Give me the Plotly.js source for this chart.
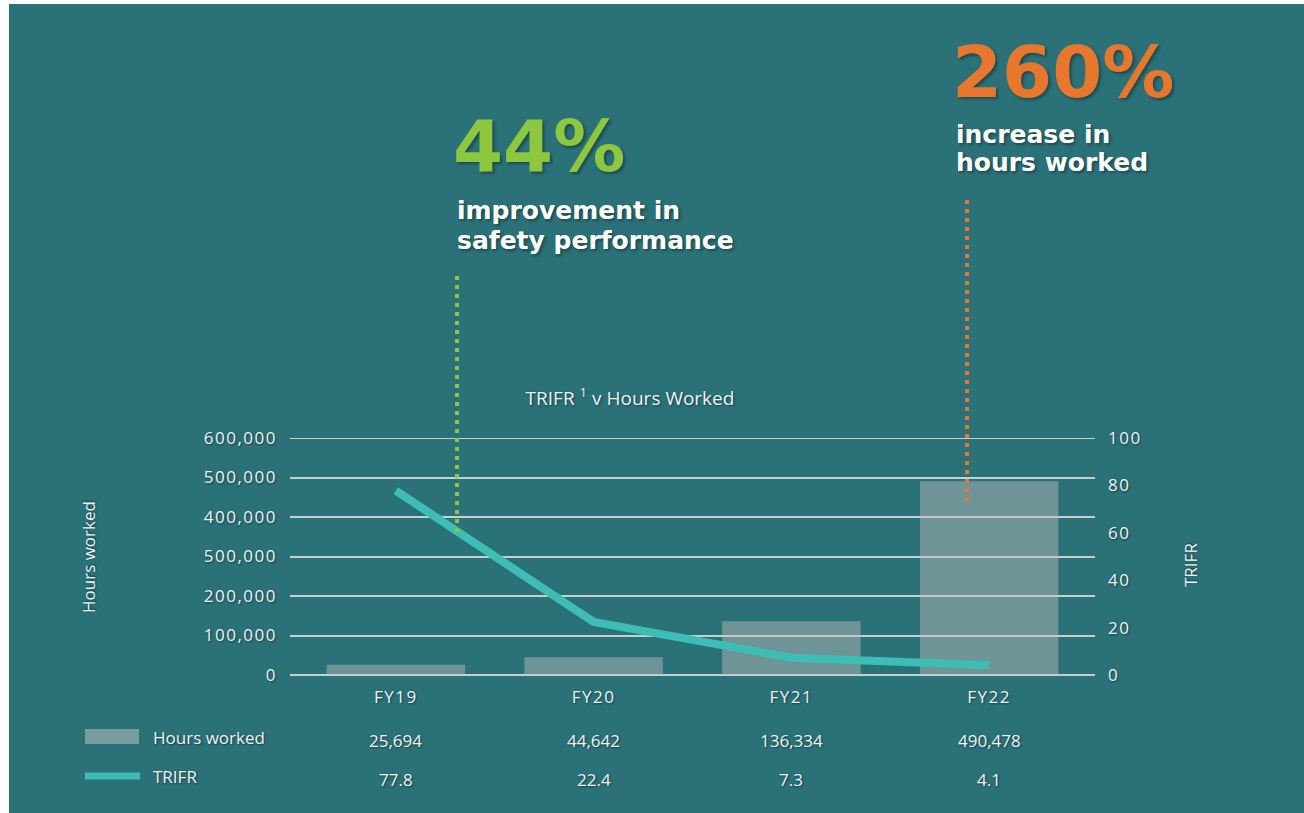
<!DOCTYPE html>
<html>
<head>
<meta charset="utf-8">
<script src="https://cdn.plot.ly/plotly-3.0.1.min.js"></script>
<style>
  html, body { margin: 0; padding: 0; background: #ffffff; }
  #chart { position: absolute; left: 9px; top: 4px; width: 1295px; height: 809px; }
  /* the source uses a wide face for numbers; widen Open Sans a little */
  #chart .xtick text, #chart .ytick text, #chart .y2tick text { letter-spacing: 1.5px; }
</style>
</head>
<body>
<div id="chart"></div>
<script>
const categories = ['FY19', 'FY20', 'FY21', 'FY22']
const hoursWorked = [25694, 44642, 136334, 490478]
const trifr = [77.8, 22.4, 7.3, 4.1]

// left axis labels as printed (the 300,000 tick reads 500,000 in the source)
const hoursTickVals = [0, 100000, 200000, 300000, 400000, 500000, 600000]
const hoursTickText = ['0', '100,000', '200,000', '500,000', '400,000', '500,000', '600,000']
const trifrTickVals = [0, 20, 40, 60, 80, 100]

const BG = '#2b7178'
const TEAL = '#3dbdb4'
const GREEN = '#8dc63f'
const ORANGE = '#e8772e'
const TXT = '#eef3f3'
const GRID = '#c6d0d1'
const shadow = '1px 1px 2px rgba(0,0,0,0.45)'

// page pixel -> paper coords (plot area spans x 290..1095, y 438..675 on the page)
const px = x => (x - 290) / 805
const py = y => (675 - y) / 237

const tickFont = { family: 'Open Sans, sans-serif', size: 17, color: TXT, shadow: shadow }
const labelFont = { family: 'Open Sans, sans-serif', size: 17, color: TXT, shadow: shadow }

const bars = {
    type: 'bar',
    name: 'Hours worked',
    x: categories,
    y: hoursWorked,
    marker: { color: 'rgba(190,190,190,0.46)' },
    hoverinfo: 'x+y',
}

const line = {
    type: 'scatter',
    mode: 'lines',
    name: 'TRIFR',
    x: categories,
    y: trifr,
    yaxis: 'y2',
    line: { color: TEAL, width: 8 },
}

const bigText = (text, x, y, color, size) => ({
    text: text, xref: 'paper', yref: 'paper', x: px(x), y: py(y),
    xanchor: 'left', yanchor: 'middle', showarrow: false,
    font: { family: 'DejaVu Sans, sans-serif', size: size, weight: 700, color: color,
            shadow: '2px 2px 3px rgba(0,0,0,0.35)' },
})

const annotations = [
    bigText('44%', 451, 146, GREEN, 72),
    bigText('improvement in', 455, 211, '#ffffff', 25),
    bigText('safety performance', 455, 240, '#ffffff', 25),
    bigText('260%', 950, 72, ORANGE, 72),
    bigText('increase in', 954, 134, '#ffffff', 25),
    bigText('hours worked', 954, 162, '#ffffff', 25),
    {
        text: 'Hours worked', xref: 'paper', yref: 'paper', x: px(88), y: py(557),
        textangle: -90, showarrow: false, xanchor: 'center', yanchor: 'middle', font: labelFont,
    },
    {
        text: 'TRIFR', xref: 'paper', yref: 'paper', x: px(1190), y: py(565),
        textangle: -90, showarrow: false, xanchor: 'center', yanchor: 'middle', font: labelFont,
    },
    {
        text: 'Hours worked', xref: 'paper', yref: 'paper', x: px(151), y: py(737),
        showarrow: false, xanchor: 'left', yanchor: 'middle', font: labelFont,
    },
    {
        text: 'TRIFR', xref: 'paper', yref: 'paper', x: px(151), y: py(776),
        showarrow: false, xanchor: 'left', yanchor: 'middle', font: labelFont,
    },
]

// table rows under the axis, one value per category
categories.forEach((c, i) => {
    annotations.push({
        text: hoursWorked[i].toLocaleString('en-US'), xref: 'x', yref: 'paper', x: c, y: py(740),
        showarrow: false, xanchor: 'center', yanchor: 'middle', font: tickFont,
    })
    annotations.push({
        text: trifr[i].toFixed(1), xref: 'x', yref: 'paper', x: c, y: py(779),
        showarrow: false, xanchor: 'center', yanchor: 'middle', font: tickFont,
    })
})

const shapes = [
    // top gridline (plotly drops the grid line sitting on the range end)
    { type: 'line', xref: 'paper', yref: 'y', x0: 0, x1: 1,
      y0: hoursTickVals[hoursTickVals.length - 1], y1: hoursTickVals[hoursTickVals.length - 1],
      layer: 'below', line: { color: GRID, width: 2 } },
    // dotted call-out lines
    { type: 'line', xref: 'paper', yref: 'paper', x0: px(457), x1: px(457), y0: py(276), y1: py(537),
      line: { color: GREEN, width: 4, dash: '4px,5px' } },
    { type: 'line', xref: 'paper', yref: 'paper', x0: px(967), x1: px(967), y0: py(200), y1: py(502),
      line: { color: ORANGE, width: 4, dash: '4px,5px' } },
    // legend swatches
    { type: 'rect', xref: 'paper', yref: 'paper', x0: px(85), x1: px(139), y0: py(744), y1: py(729),
      fillcolor: '#7a9da0', line: { width: 0 } },
    { type: 'line', xref: 'paper', yref: 'paper', x0: px(85), x1: px(140), y0: py(776), y1: py(776),
      line: { color: TEAL, width: 7 } },
]

const layout = {
    width: 1295,
    height: 809,
    margin: { l: 281, r: 209, t: 434, b: 138 },
    paper_bgcolor: BG,
    plot_bgcolor: BG,
    showlegend: false,
    bargap: 0.30,
    title: {
        text: 'TRIFR <sup>1</sup> v Hours Worked',
        xref: 'container', yref: 'container',
        x: (630 - 9) / 1295, y: 1 - (398 - 4) / 809,
        xanchor: 'center', yanchor: 'middle',
        font: { family: 'Open Sans, sans-serif', size: 19, color: TXT, shadow: shadow },
    },
    xaxis: {
        type: 'category',
        range: [-0.535, 3.535],
        showgrid: false,
        zeroline: false,
        showline: false,
        ticks: '',
        ticklabelstandoff: 10,
        tickfont: tickFont,
    },
    yaxis: {
        range: [0, 600000],
        tickvals: hoursTickVals,
        ticktext: hoursTickText,
        showgrid: true,
        gridcolor: GRID,
        gridwidth: 2,
        zeroline: true,
        zerolinecolor: GRID,
        zerolinewidth: 2,
        ticks: '',
        ticklabelstandoff: 12,
        tickfont: tickFont,
        fixedrange: true,
    },
    yaxis2: {
        overlaying: 'y',
        side: 'right',
        range: [0, 100],
        tickvals: trifrTickVals,
        showgrid: false,
        zeroline: false,
        ticks: '',
        ticklabelstandoff: 12,
        tickfont: tickFont,
        fixedrange: true,
    },
    annotations: annotations,
    shapes: shapes,
}

Plotly.newPlot('chart', [bars, line], layout, { displayModeBar: false, staticPlot: true })
</script>
</body>
</html>
